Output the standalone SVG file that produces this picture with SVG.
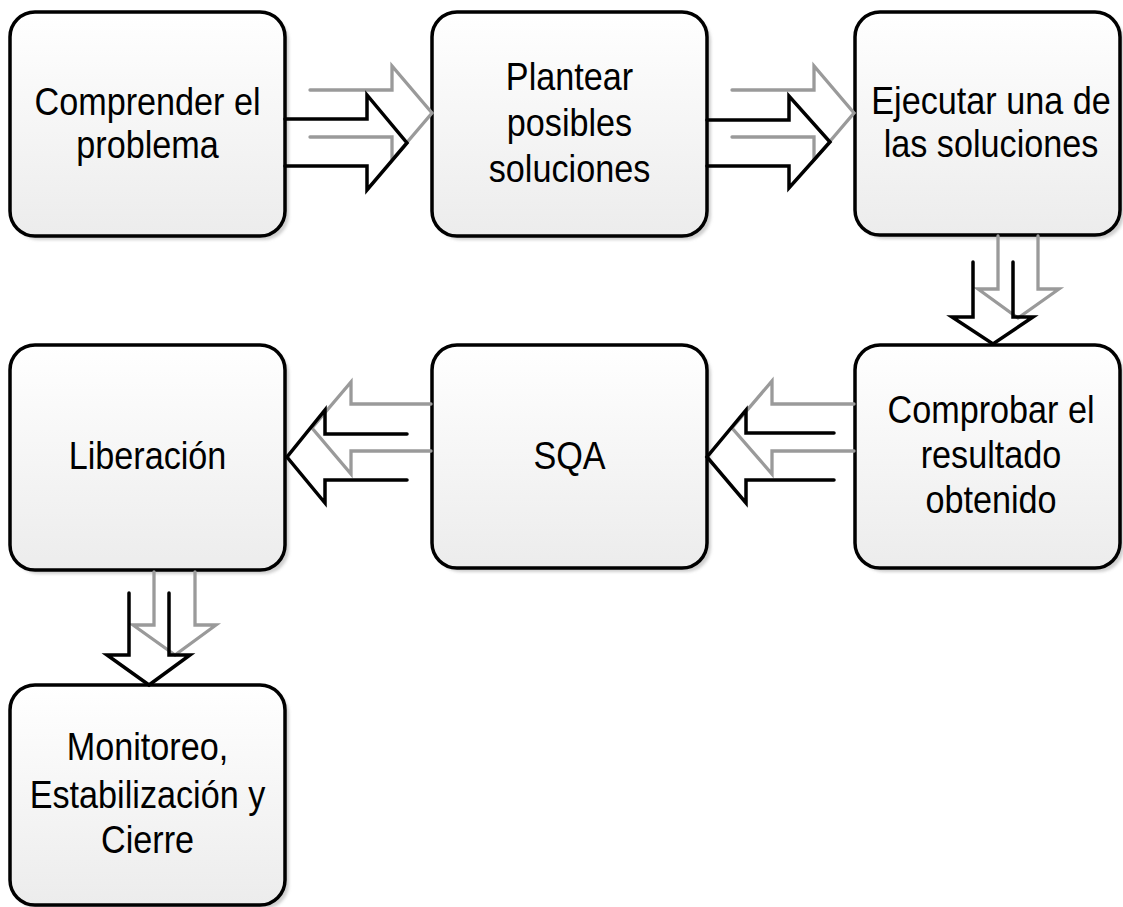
<svg xmlns="http://www.w3.org/2000/svg" width="1123" height="907" viewBox="0 0 1123 907">
<defs>
<linearGradient id="fill" x1="0" y1="0" x2="0" y2="1">
<stop offset="0" stop-color="#ffffff"/>
<stop offset="1" stop-color="#ececec"/>
</linearGradient>
<filter id="sh" x="-10%" y="-10%" width="130%" height="130%">
<feGaussianBlur stdDeviation="1.5"/>
</filter>
</defs>
<style>
.box{fill:url(#fill);stroke:#000;stroke-width:3.5}
.shadow{fill:#cfcfcf;filter:url(#sh)}
.lbl{font-family:"Liberation Sans",Arial,sans-serif;font-size:38px;fill:#000;text-anchor:middle}
.blk{fill:none;stroke:#000;stroke-width:3.5;stroke-linejoin:miter;stroke-linecap:round}
.gry{fill:none;stroke:#9a9a9a;stroke-width:3.3;stroke-linejoin:miter;stroke-linecap:round}
</style>
<rect width="1123" height="907" fill="#fff"/>

<g id="node-comprender">
<rect class="shadow" x="14" y="16" width="275" height="224" rx="25"/>
<rect class="box" x="10" y="12" width="275" height="224" rx="25"/>
<g transform="translate(147.5,0) scale(0.9,1)">
<text class="lbl" x="0" y="115">Comprender el</text>
<text class="lbl" x="0" y="158">problema</text>
</g>
</g>

<g id="node-plantear">
<rect class="shadow" x="436" y="16" width="275" height="224" rx="25"/>
<rect class="box" x="432" y="12" width="275" height="224" rx="25"/>
<g transform="translate(569.5,0) scale(0.9,1)">
<text class="lbl" x="0" y="90">Plantear</text>
<text class="lbl" x="0" y="136">posibles</text>
<text class="lbl" x="0" y="182">soluciones</text>
</g>
</g>

<g id="node-ejecutar">
<rect class="shadow" x="859" y="16" width="265" height="223" rx="25"/>
<rect class="box" x="855" y="12" width="265" height="223" rx="25"/>
<g transform="translate(991,0) scale(0.9,1)">
<text class="lbl" x="0" y="114">Ejecutar una de</text>
<text class="lbl" x="0" y="157">las soluciones</text>
</g>
</g>

<g id="node-comprobar">
<rect class="shadow" x="859" y="349" width="265" height="223" rx="25"/>
<rect class="box" x="855" y="345" width="265" height="223" rx="25"/>
<g transform="translate(991,0) scale(0.9,1)">
<text class="lbl" x="0" y="423">Comprobar el</text>
<text class="lbl" x="0" y="468">resultado</text>
<text class="lbl" x="0" y="513">obtenido</text>
</g>
</g>

<g id="node-sqa">
<rect class="shadow" x="436" y="349" width="275" height="223" rx="25"/>
<rect class="box" x="432" y="345" width="275" height="223" rx="25"/>
<g transform="translate(569.5,0) scale(0.9,1)">
<text class="lbl" x="0" y="469">SQA</text>
</g>
</g>

<g id="node-liberacion">
<rect class="shadow" x="14" y="349" width="275" height="225" rx="25"/>
<rect class="box" x="10" y="345" width="275" height="225" rx="25"/>
<g transform="translate(147.5,0) scale(0.9,1)">
<text class="lbl" x="0" y="469">Liberación</text>
</g>
</g>

<g id="node-monitoreo">
<rect class="shadow" x="14" y="689" width="275" height="220" rx="25"/>
<rect class="box" x="10" y="685" width="275" height="220" rx="25"/>
<g transform="translate(147.5,0) scale(0.9,1)">
<text class="lbl" x="0" y="760">Monitoreo,</text>
<text class="lbl" x="0" y="808">Estabilización y</text>
<text class="lbl" x="0" y="853">Cierre</text>
</g>
</g>

<g id="connectors">
<!-- Comprender -> Plantear -->
<polyline class="gry" points="310,90 392,90 392,66 432,113 392,160 392,137 310,137"/>
<polyline class="blk" points="285,119 367,119 367,95 407,143 367,190 367,166 285,166"/>
<!-- Plantear -> Ejecutar -->
<polyline class="gry" points="732,90 814,90 814,66 854,113 814,160 814,137 732,137"/>
<polyline class="blk" points="707,120 789,120 789,96 830,142 789,188 789,166 707,166"/>
<!-- Ejecutar -> Comprobar -->
<polyline class="gry" points="998,236 998,289 978,289 1018,318 1059,289 1038,289 1038,236"/>
<polyline class="blk" points="973,262 973,317 952,317 993,344 1033,317 1013,317 1013,262"/>
<!-- Comprobar -> SQA -->
<polyline class="gry" points="854,404 772,404 772,381 732,428 772,474 772,451 854,451"/>
<polyline class="blk" points="834,433 746,433 746,410 707,457 746,503 746,480 834,480"/>
<!-- SQA -> Liberación -->
<polyline class="gry" points="431,404 351,404 351,382 312,428 351,474 351,451 431,451"/>
<polyline class="blk" points="407,434 325,434 325,410 287,457 325,503 325,480 407,480"/>
<!-- Liberación -> Monitoreo -->
<polyline class="gry" points="154,572 154,625 133,625 175,655 216,625 195,625 195,572"/>
<polyline class="blk" points="129,593 129,655 107,655 149,685 190,655 169,655 169,593"/>
</g>
</svg>
